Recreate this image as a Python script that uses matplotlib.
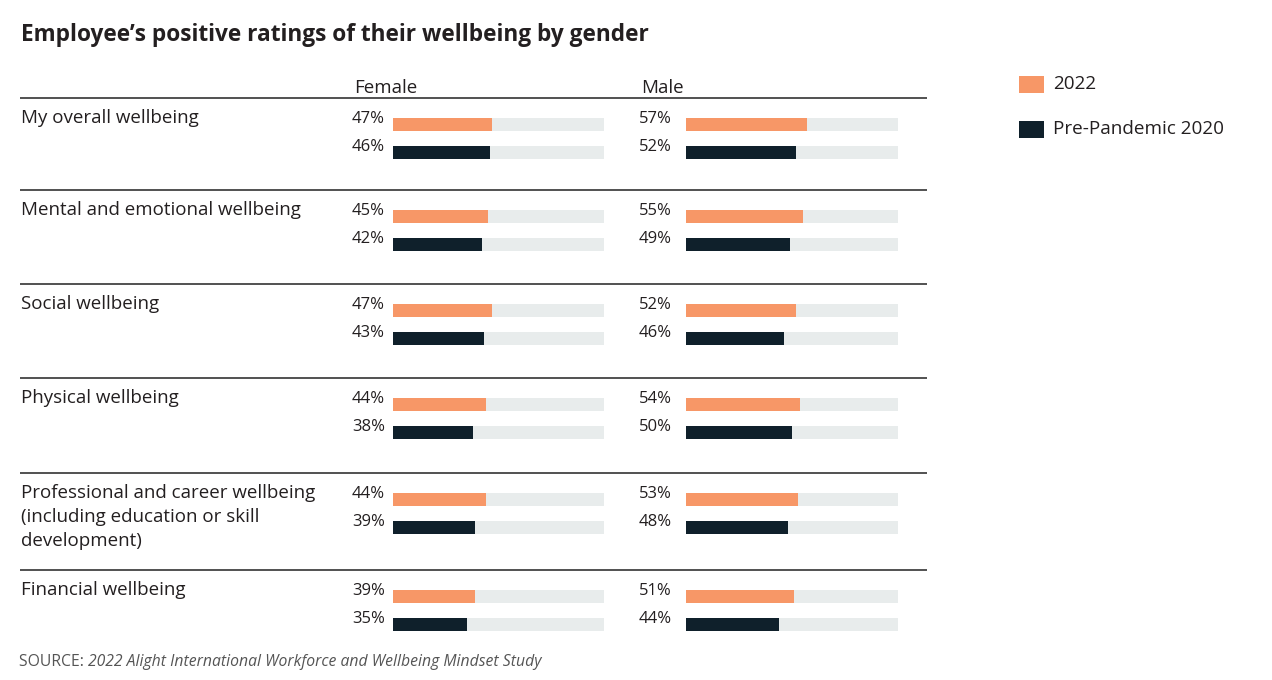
import matplotlib.pyplot as plt

plt.rcParams['font.family'] = ['Open Sans', 'DejaVu Sans']

# data
categories = [
    "My overall wellbeing",
    "Mental and emotional wellbeing",
    "Social wellbeing",
    "Physical wellbeing",
    "Professional and career wellbeing\n(including education or skill\ndevelopment)",
    "Financial wellbeing",
]
female_2022 = [47, 45, 47, 44, 44, 39]
female_2020 = [46, 42, 43, 38, 39, 35]
male_2022 = [57, 55, 52, 54, 53, 51]
male_2020 = [52, 49, 46, 50, 48, 44]
series_labels = ["2022", "Pre-Pandemic 2020"]

ORANGE = '#F79767'
NAVY = '#0F202B'
TRACK = '#E8ECEC'
TEXT = '#231F20'

W, H = 1272, 680
fig = plt.figure(figsize=(W / 100, H / 100), dpi=100)

# background axes in pixel units for text and rules
bg = fig.add_axes([0, 0, 1, 1])
bg.set_xlim(0, W)
bg.set_ylim(H, 0)
bg.axis('off')

# layout (pixels)
row_tops = [98, 190, 284, 378, 473, 570]
off_a, off_b = 26, 54
bar_h = 13

bg.text(21, 41, "Employee\u2019s positive ratings of their wellbeing by gender",
        fontsize=16.3, fontweight='bold', color=TEXT, va='baseline', ha='left')

columns = [
    ("Female", 352, 393, 604, female_2022, female_2020),
    ("Male", 639, 686, 898, male_2022, male_2020),
]

for top, cat in zip(row_tops, categories):
    bg.plot([20, 927], [top, top], color='#222222', lw=1.1, solid_capstyle='butt')
    for k, line in enumerate(cat.split("\n")):
        bg.text(21, top + 25 + 24 * k, line, fontsize=13.5, color=TEXT,
                va='baseline', ha='left')

for name, lab_x, x0, x1, v22, v20 in columns:
    bg.text(lab_x + 2, 93, name, fontsize=13.5, color=TEXT, va='baseline', ha='left')
    ax = fig.add_axes([x0 / W, 0, (x1 - x0) / W, 1])
    ax.set_xlim(0, 100)
    ax.set_ylim(H, 0)
    ax.axis('off')
    ya = [t + off_a for t in row_tops]
    yb = [t + off_b for t in row_tops]
    ax.barh(ya, [100] * len(ya), height=bar_h, color=TRACK, lw=0)
    ax.barh(yb, [100] * len(yb), height=bar_h, color=TRACK, lw=0)
    ax.barh(ya, v22, height=bar_h, color=ORANGE, lw=0)
    ax.barh(yb, v20, height=bar_h, color=NAVY, lw=0)
    for y, v in zip(ya, v22):
        bg.text(lab_x, y - 1, f"{v}%", fontsize=12, color=TEXT, va='baseline', ha='left')
    for y, v in zip(yb, v20):
        bg.text(lab_x, y - 1, f"{v}%", fontsize=12, color=TEXT, va='baseline', ha='left')

# legend
for (yc, col), lab in zip([(84, ORANGE), (129, NAVY)], series_labels):
    bg.add_patch(plt.Rectangle((1019, yc - 8.5), 25, 17, color=col, lw=0))
    bg.text(1053, yc, lab, fontsize=13.6, color=TEXT, va='center', ha='left')

# source line
src = bg.text(19, 662, "SOURCE: ", fontsize=11.3, color='#555555', va='center', ha='left')
bg.annotate("2022 Alight International Workforce and Wellbeing Mindset Study",
            xy=(1, 0), xycoords=src, va='bottom', ha='left',
            fontsize=11.3, color='#555555', style='italic')

fig.savefig('out.png', dpi=100)
